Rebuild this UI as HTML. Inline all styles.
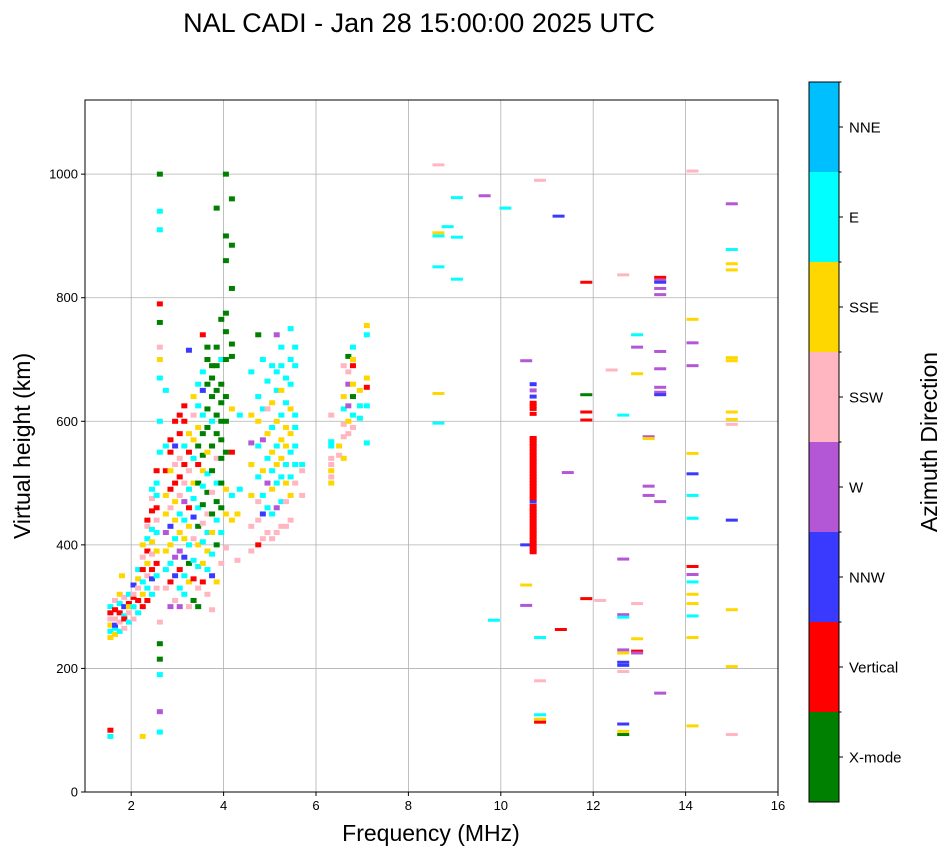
<!DOCTYPE html>
<html><head><meta charset="utf-8"><style>
body{margin:0;background:#fff;font-family:"Liberation Sans",sans-serif}
svg text{font-family:"Liberation Sans",sans-serif}
</style></head><body>
<svg id="fig" width="951" height="856" xmlns="http://www.w3.org/2000/svg"></svg>
<script>
const directions=["X-mode","Vertical","NNW","W","SSW","SSE","E","NNE"];
const dirColors=["#008000","#ff0000","#3a3aff","#b357d6","#ffb6c1","#ffd700","#00ffff","#00bfff"];
const xTicks=[2,4,6,8,10,12,14,16];
const yTicks=[0,200,400,600,800,1000];
// echoes: [frequency MHz, virtual height km, direction index]
const echoes=[
[1.55,100,1],[1.55,90,6],[1.55,260,6],[1.55,270,5],[1.55,280,4],[1.55,290,1],[1.55,300,6],[1.55,250,5],
[1.65,255,5],[1.65,265,6],[1.65,280,4],[1.65,295,1],[1.65,310,4],[1.65,270,2],
[1.75,260,6],[1.75,275,4],[1.75,290,1],[1.75,305,6],[1.75,320,5],[1.8,350,5],
[1.85,265,4],[1.85,285,6],[1.85,300,2],[1.85,315,4],[1.85,280,1],
[1.95,275,6],[1.95,290,4],[1.95,305,1],[1.95,320,6],[1.95,300,5],
[2.05,280,4],[2.05,300,6],[2.05,315,1],[2.05,335,2],[2.05,320,4],
[2.15,290,6],[2.15,310,1],[2.15,330,4],[2.15,345,5],[2.15,360,6],
[2.25,300,1],[2.25,320,5],[2.25,340,6],[2.25,360,1],[2.25,380,4],[2.25,400,5],[2.25,90,5],
[2.35,310,1],[2.35,330,6],[2.35,350,4],[2.35,370,5],[2.35,390,1],[2.35,410,6],[2.35,430,4],[2.35,440,1],
[2.45,320,6],[2.45,345,2],[2.45,360,1],[2.45,385,4],[2.45,405,5],[2.45,425,6],[2.45,455,1],[2.45,475,4],[2.45,490,6],
[2.55,330,4],[2.55,350,6],[2.55,370,1],[2.55,390,5],[2.55,420,6],[2.55,440,4],[2.55,460,1],[2.55,480,6],[2.55,500,6],[2.55,520,1],
[2.62,550,6],[2.62,600,6],[2.62,670,6],[2.62,700,5],[2.62,720,4],[2.62,760,0],[2.62,790,1],[2.62,910,6],[2.62,940,6],[2.62,1000,0],[2.62,190,6],[2.62,215,0],[2.62,130,3],[2.62,97,6],[2.62,275,4],[2.62,240,0],
[2.75,330,4],[2.75,360,6],[2.75,390,5],[2.75,420,3],[2.75,450,5],[2.75,480,5],[2.75,520,1],[2.75,560,6],[2.75,650,6],
[2.85,300,3],[2.85,340,1],[2.85,370,6],[2.85,400,5],[2.85,430,2],[2.85,460,4],[2.85,490,1],[2.85,520,5],[2.85,550,1],[2.85,570,1],
[2.95,310,4],[2.95,350,2],[2.95,380,3],[2.95,410,6],[2.95,440,5],[2.95,470,5],[2.95,500,1],[2.95,530,4],[2.95,560,2],[2.95,600,1],
[3.05,300,3],[3.05,330,6],[3.05,360,1],[3.05,390,3],[3.05,420,5],[3.05,450,6],[3.05,480,4],[3.05,510,1],[3.05,540,4],[3.05,580,1],[3.05,610,1],
[3.15,320,6],[3.15,350,6],[3.15,380,2],[3.15,410,5],[3.15,440,6],[3.15,470,3],[3.15,500,4],[3.15,530,1],[3.15,560,6],[3.15,600,1],[3.15,625,1],
[3.25,300,4],[3.25,340,5],[3.25,370,0],[3.25,400,6],[3.25,430,5],[3.25,460,1],[3.25,490,6],[3.25,520,4],[3.25,550,1],[3.25,580,5],[3.25,715,2],
[3.35,310,0],[3.35,345,1],[3.35,375,6],[3.35,410,4],[3.35,445,2],[3.35,475,6],[3.35,500,5],[3.35,540,6],[3.35,570,5],[3.35,610,4],[3.35,640,5],
[3.45,300,0],[3.45,330,4],[3.45,365,6],[3.45,400,5],[3.45,430,0],[3.45,460,6],[3.45,500,0],[3.45,530,1],[3.45,560,0],[3.45,590,5],[3.45,625,6],[3.45,660,6],
[3.55,340,1],[3.55,370,5],[3.55,405,6],[3.55,435,4],[3.55,465,0],[3.55,495,6],[3.55,520,5],[3.55,545,0],[3.55,580,0],[3.55,610,6],[3.55,650,2],[3.55,680,6],[3.55,740,1],
[3.65,320,4],[3.65,360,6],[3.65,390,5],[3.65,420,6],[3.65,450,4],[3.65,485,0],[3.65,515,6],[3.65,550,5],[3.65,590,0],[3.65,620,0],[3.65,660,0],[3.65,700,0],[3.65,720,0],
[3.75,295,4],[3.75,350,2],[3.75,385,6],[3.75,420,5],[3.75,450,0],[3.75,485,4],[3.75,520,0],[3.75,560,0],[3.75,600,6],[3.75,640,0],[3.75,670,0],[3.75,690,0],
[3.85,340,5],[3.85,400,0],[3.85,440,6],[3.85,470,0],[3.85,500,6],[3.85,540,4],[3.85,580,0],[3.85,610,0],[3.85,650,0],[3.85,690,0],[3.85,720,0],[3.85,945,0],
[3.95,370,4],[3.95,420,6],[3.95,460,0],[3.95,500,0],[3.95,540,0],[3.95,570,0],[3.95,600,0],[3.95,630,0],[3.95,660,0],[3.95,700,6],[3.95,765,0],
[4.05,395,4],[4.05,450,5],[4.05,490,5],[4.05,550,0],[4.05,600,0],[4.05,640,0],[4.05,700,0],[4.05,745,0],[4.05,775,0],[4.05,860,0],[4.05,900,0],[4.05,1000,0],
[4.18,440,5],[4.18,480,6],[4.18,550,1],[4.18,620,5],[4.18,705,0],[4.18,725,0],[4.18,815,0],[4.18,885,0],[4.18,960,0],
[4.35,490,6],[4.35,610,6],[4.3,375,4],[4.3,450,5],
[4.6,390,4],[4.6,430,4],[4.6,480,5],[4.6,530,5],[4.6,565,3],[4.6,610,5],[4.6,680,6],
[4.75,400,1],[4.75,440,4],[4.75,470,4],[4.75,510,6],[4.75,560,6],[4.75,600,5],[4.75,640,6],[4.75,740,0],
[4.85,410,4],[4.85,450,2],[4.85,480,6],[4.85,520,5],[4.85,570,3],[4.85,620,6],[4.85,700,6],
[4.95,420,4],[4.95,460,6],[4.95,500,3],[4.95,540,6],[4.95,580,5],[4.95,620,4],[4.95,665,6],
[5.05,410,4],[5.05,450,6],[5.05,490,5],[5.05,520,6],[5.05,550,5],[5.05,590,6],[5.05,630,5],[5.05,690,6],
[5.15,420,4],[5.15,460,3],[5.15,500,6],[5.15,530,5],[5.15,560,6],[5.15,600,5],[5.15,650,6],[5.15,680,6],[5.15,740,3],
[5.25,430,4],[5.25,470,6],[5.25,510,6],[5.25,540,5],[5.25,570,5],[5.25,610,6],[5.25,650,5],[5.25,690,6],[5.25,720,6],
[5.35,430,4],[5.35,470,4],[5.35,500,5],[5.35,530,6],[5.35,560,5],[5.35,590,5],[5.35,630,6],[5.35,670,6],
[5.45,440,4],[5.45,480,5],[5.45,510,6],[5.45,550,6],[5.45,580,5],[5.45,620,5],[5.45,660,6],[5.45,700,6],[5.45,750,6],
[5.55,500,4],[5.55,530,6],[5.55,560,6],[5.55,590,6],[5.55,610,6],[5.55,690,6],[5.55,720,6],
[5.7,480,4],[5.7,520,4],[5.7,530,6],
[6.33,500,5],[6.33,510,4],[6.33,520,5],[6.33,530,4],[6.33,540,4],[6.33,560,6],[6.33,567,6],[6.33,610,4],
[6.5,545,4],[6.5,560,5],
[6.6,540,5],[6.6,575,4],[6.6,595,4],[6.6,620,6],[6.6,640,5],[6.6,690,4],
[6.7,580,4],[6.7,600,5],[6.7,625,3],[6.7,660,3],[6.7,680,4],[6.7,705,0],
[6.8,590,4],[6.8,610,6],[6.8,640,0],[6.8,660,5],[6.8,690,1],[6.8,700,5],[6.8,720,6],
[6.95,605,6],[6.95,625,6],[6.95,650,5],
[7.1,565,6],[7.1,625,6],[7.1,655,1],[7.1,670,5],[7.1,740,6],[7.1,755,5],
[8.65,1015,4],[8.65,905,5],[8.65,900,6],[8.65,850,6],[8.65,645,5],[8.65,597,6],
[8.85,915,6],[9.05,962,6],[9.05,898,6],[9.05,830,6],[9.65,965,3],[9.85,278,6],[10.1,945,6],
[10.55,698,3],[10.55,400,2],[10.55,335,5],[10.55,302,3],
[10.7,660,2],[10.7,650,3],[10.7,640,2],[10.7,630,1],[10.7,625,1],[10.7,620,1],[10.7,612,1],[10.7,470,2],
[10.7,388,1],[10.7,393,1],[10.7,398,1],[10.7,403,1],[10.7,408,1],[10.7,413,1],[10.7,418,1],[10.7,423,1],[10.7,428,1],[10.7,433,1],[10.7,438,1],[10.7,443,1],[10.7,448,1],[10.7,453,1],[10.7,458,1],[10.7,463,1],[10.7,475,1],[10.7,480,1],[10.7,485,1],[10.7,490,1],[10.7,495,1],[10.7,500,1],[10.7,505,1],[10.7,510,1],[10.7,515,1],[10.7,520,1],[10.7,525,1],[10.7,530,1],[10.7,535,1],[10.7,540,1],[10.7,545,1],[10.7,550,1],[10.7,555,1],[10.7,560,1],[10.7,565,1],[10.7,570,1],[10.7,573,1],
[10.85,990,4],[10.85,250,6],[10.85,180,4],[10.85,125,6],[10.85,118,5],[10.85,113,1],
[11.25,932,2],[11.3,263,1],[11.45,517,3],
[11.85,825,1],[11.85,643,0],[11.85,615,1],[11.85,602,1],[11.85,313,1],[12.15,310,4],[12.4,683,4],
[12.65,837,4],[12.65,610,6],[12.65,377,3],[12.65,287,3],[12.65,283,6],[12.65,230,3],[12.65,225,5],[12.65,210,2],[12.65,205,2],[12.65,195,4],[12.65,110,2],[12.65,98,5],[12.65,93,0],
[12.95,740,6],[12.95,720,3],[12.95,677,5],[12.95,305,4],[12.95,248,5],[12.95,228,1],[12.95,225,3],
[13.2,575,3],[13.2,572,5],[13.2,495,3],[13.2,480,3],
[13.45,833,1],[13.45,828,3],[13.45,825,2],[13.45,815,3],[13.45,805,3],[13.45,713,3],[13.45,685,3],[13.45,655,3],[13.45,647,3],[13.45,643,2],[13.45,470,3],[13.45,160,3],
[14.15,1005,4],[14.15,765,5],[14.15,727,3],[14.15,690,3],[14.15,548,5],[14.15,515,2],[14.15,480,6],[14.15,443,6],[14.15,365,1],[14.15,352,3],[14.15,340,6],[14.15,320,5],[14.15,305,5],[14.15,285,6],[14.15,250,5],[14.15,107,5],
[15.0,952,3],[15.0,878,6],[15.0,855,5],[15.0,845,5],[15.0,703,5],[15.0,698,5],[15.0,615,5],[15.0,603,5],[15.0,595,4],[15.0,440,2],[15.0,295,5],[15.0,203,5],[15.0,93,4]
];

const NS="http://www.w3.org/2000/svg";
const svg=document.getElementById('fig');
const L=85,R=778,T=100,B=792;
const xMin=1,xMax=16,yMin=0,yMax=1120;
function sx(v){return L+(v-xMin)/(xMax-xMin)*(R-L);}
function sy(v){return B-(v-yMin)/(yMax-yMin)*(B-T);}
function el(tag,attrs,parent){const e=document.createElementNS(NS,tag);for(const k in attrs)e.setAttribute(k,attrs[k]);(parent||svg).appendChild(e);return e;}

const title=el('text',{x:419,y:32,'font-size':27,'text-anchor':'middle',fill:'#000'});
title.textContent="NAL CADI - Jan 28 15:00:00 2025 UTC";



const grid=el('g',{});


xTicks.forEach(t=>{el('line',{x1:sx(t),x2:sx(t),y1:T,y2:B,stroke:'#b0b0b0','stroke-width':0.8},grid);});
yTicks.forEach(t=>{el('line',{x1:L,x2:R,y1:sy(t),y2:sy(t),stroke:'#b0b0b0','stroke-width':0.8},grid);});

const marks=el('g',{});


echoes.forEach(d=>{
  const f=d[0],h=d[1],m=d[2];
  const wide=f>8;
  const bar=(f===10.7);
  const w=bar?7:(wide?12:6), hh=bar?4:(wide?3:5);
  const r=el('rect',{x:sx(f)-w/2,y:sy(h)-hh/2,width:w,height:hh,fill:dirColors[m]},marks);
  
  
});

const frame=el('rect',{x:L,y:T,width:R-L,height:B-T,fill:'none',stroke:'#000','stroke-width':1});



const xAxis=el('g',{});


xTicks.forEach(t=>{
  el('line',{x1:sx(t),x2:sx(t),y1:B,y2:B+4,stroke:'#000'},xAxis);
  const tx=el('text',{x:sx(t),y:B+18,'font-size':13,'text-anchor':'middle'},xAxis);
  tx.textContent=t;
});
const yAxis=el('g',{});


yTicks.forEach(t=>{
  el('line',{x1:L-4,x2:L,y1:sy(t),y2:sy(t),stroke:'#000'},yAxis);
  const tx=el('text',{x:L-7,y:sy(t)+4.5,'font-size':13,'text-anchor':'end'},yAxis);
  tx.textContent=t;
});
const xl=el('text',{x:431,y:841,'font-size':23,'text-anchor':'middle'});
xl.textContent="Frequency (MHz)";


const yl=el('text',{x:30,y:446,'font-size':23,'text-anchor':'middle',transform:'rotate(-90 30 446)'});
yl.textContent="Virtual height (km)";



const cb=el('g',{});


const cT=82,cB=802,cL=809,cR=839;
const seg=(cB-cT)/directions.length;
directions.forEach((name,i)=>{
  const y0=cB-(i+1)*seg;
  const r=el('rect',{x:cL,y:y0,width:cR-cL,height:seg,fill:dirColors[i]},cb);
  
  
  el('line',{x1:cR,x2:cR+4,y1:y0+seg/2,y2:y0+seg/2,stroke:'#000'},cb);
  el('line',{x1:cR,x2:cR+2.5,y1:y0,y2:y0,stroke:'#000'},cb);
  const tx=el('text',{x:cR+10,y:y0+seg/2+5.5,'font-size':15},cb);
  tx.textContent=name;
});
el('rect',{x:cL,y:cT,width:cR-cL,height:cB-cT,fill:'none',stroke:'#000','stroke-width':1},cb);
const cl=el('text',{x:937,y:442,'font-size':23,'text-anchor':'middle',transform:'rotate(-90 937 442)'});
cl.textContent="Azimuth Direction";


</script>
</body></html>
